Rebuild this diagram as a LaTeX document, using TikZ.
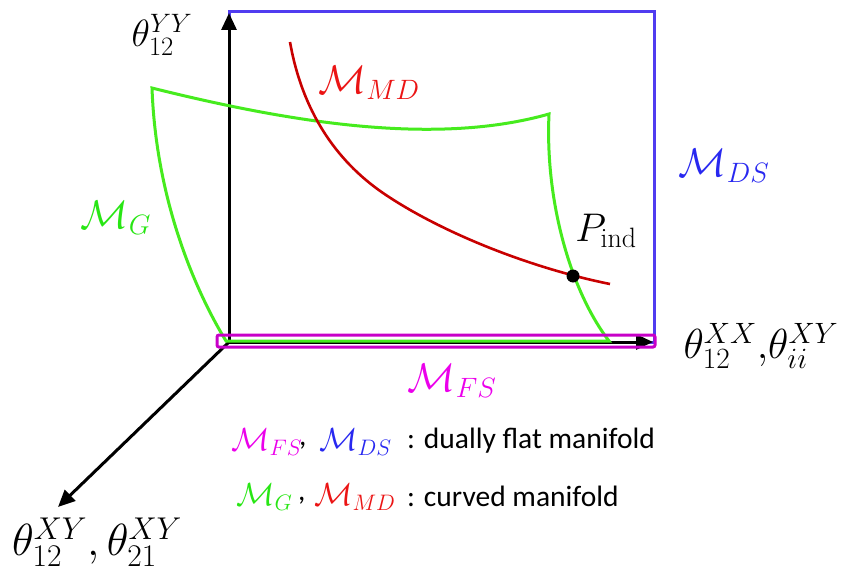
\RequirePackage{fix-cm}
\documentclass[tikz,border=0pt]{standalone}
\usepackage{fontspec}
\newfontfamily\calibri{Carlito}
\usetikzlibrary{arrows.meta}
\definecolor{cblue}{RGB}{80,60,240}
\definecolor{cgreen}{RGB}{70,235,30}
\definecolor{cred}{RGB}{200,0,0}
\definecolor{cmag}{RGB}{200,0,200}
\definecolor{tblue}{RGB}{40,40,240}
\definecolor{tgreen}{RGB}{40,230,20}
\definecolor{tred}{RGB}{235,20,20}
\definecolor{tmag}{RGB}{235,0,235}
\tikzset{
  axis/.style={line width=3pt, black, -{Triangle[length=17pt,width=15pt]}},
  biglab/.style={inner sep=0pt, font=\fontsize{40}{44}\selectfont},
  thlab/.style={inner sep=0pt, font=\fontsize{38}{42}\selectfont},
  leglab/.style={inner sep=0pt, anchor=west, font=\fontsize{32}{36}\selectfont},
  legtxt/.style={inner sep=0pt, anchor=west, font=\calibri\fontsize{29.5}{33}\selectfont},
}
\begin{document}
\begin{tikzpicture}[x=1pt,y=-1pt]
\useasboundingbox (0,0) rectangle (850,575);
% coordinates
\coordinate (O) at (229,342);
\coordinate (Ytip) at (229,13);
\coordinate (Xtip) at (653,342);
\coordinate (Ztip) at (58,507);
% blue rectangle
\draw[cblue, line width=3pt] (O) rectangle (654,12);
% axes
\draw[axis] (O) -- (Ytip);
\draw[axis] (O) -- (Xtip);
\draw[axis] (O) -- (Ztip);
% green surface
\coordinate (G1) at (152,88);
\coordinate (G2) at (549,114);
\coordinate (G3) at (609,341);
\coordinate (G4) at (226,341);
\draw[cgreen, line width=3pt, line join=miter]
  (G4) .. controls (195,290) and (156,200) .. (G1)
  .. controls (300,125) and (440,145) .. (G2)
  .. controls (545,200) and (570,290) .. (G3)
  -- cycle;
% magenta rectangle
\draw[cmag, line width=3pt, rounded corners=2pt] (217,335) rectangle (655,347);
% red curve
\coordinate (R1) at (290,42);
\coordinate (R2) at (383,193);
\coordinate (R3) at (610,284);
\draw[cred, line width=2.6pt]
  (R1) .. controls (302,110) and (335,160) .. (R2)
  .. controls (440,232) and (530,268) .. (R3);
\fill[black] (573,276) circle (6.5pt) coordinate (P);
% labels
\node[thlab] (tyy) at (162,35) {$\theta_{12}^{YY}$};
\node[thlab, font=\fontsize{42}{46}\selectfont] (txx) at (761,346) {$\theta_{12}^{XX},\!\theta_{ii}^{XY}$};
\node[thlab, font=\fontsize{45}{49}\selectfont] (txy) at (97,542) {$\theta_{12}^{XY},\theta_{21}^{XY}$};
\node[biglab, text=tred] (mmd) at (369,83) {$\mathcal{M}_{MD}$};
\node[biglab, text=tblue] (mds) at (724,166) {$\mathcal{M}_{DS}$};
\node[biglab, text=tgreen] (mg) at (116,218) {$\mathcal{M}_{G}$};
\node[biglab] (pind) at (606,231) {$P_{\mathrm{ind}}$};
\node[biglab, text=tmag] (mfs) at (452,381) {$\mathcal{M}_{FS}$};
% legend
\node[leglab, text=tmag] (l1a) at (231,442) {$\mathcal{M}_{FS}$};
\node[leglab, font=\calibri\fontsize{29.5}{33}\selectfont] (l1c) at (299,446) {,};
\node[leglab, text=tblue] (l1b) at (319,442) {$\mathcal{M}_{DS}$};
\node[legtxt] (l1t) at (407,441) {: dually flat manifold};
\node[leglab, text=tgreen] (l2a) at (236,497) {$\mathcal{M}_{G}$};
\node[leglab, font=\calibri\fontsize{29.5}{33}\selectfont] (l2c) at (298,501) {,};
\node[leglab, text=tred] (l2b) at (314,497) {$\mathcal{M}_{MD}$};
\node[legtxt] (l2t) at (407,496) {: curved manifold};
\end{tikzpicture}
\end{document}
